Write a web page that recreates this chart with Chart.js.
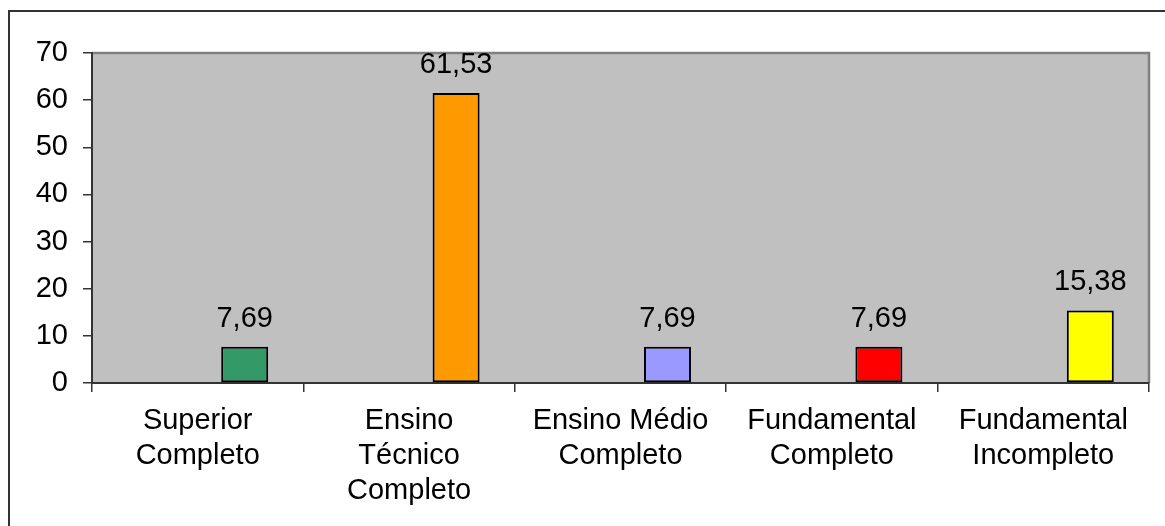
<!DOCTYPE html>
<html>
<head>
<meta charset="utf-8">
<script src="https://cdn.jsdelivr.net/npm/chart.js@4/dist/chart.umd.min.js"></script>
<style>
  html, body { margin: 0; padding: 0; background: #fff; }
  #wrap { width: 1165px; height: 526px; position: relative; }
</style>
</head>
<body>
<div id="wrap"><canvas id="escolaridadeChart" width="1165" height="526"></canvas></div>
<script>
// dados do gráfico
const categorias = [
    ['Superior', 'Completo'],
    ['Ensino', 'Técnico', 'Completo'],
    ['Ensino Médio', 'Completo'],
    ['Fundamental', 'Completo'],
    ['Fundamental', 'Incompleto']
];
const percentuais = [7.69, 61.53, 7.69, 7.69, 15.38];
const rotulos = ['7,69', '61,53', '7,69', '7,69', '15,38'];
const coresBarras = ['#339966', '#FF9900', '#9999FF', '#FF0000', '#FFFF00'];
const serieVazia = [null, null, null, null, null];
const yTicks = [0, 10, 20, 30, 40, 50, 60, 70];

const fonte = { family: "'Liberation Sans', Arial, sans-serif", size: 29, lineHeight: 1.2 };

// moldura externa e fundo cinza da área do gráfico
const fundoPlugin = {
    id: 'fundo',
    beforeDraw(chart) {
        const { ctx, chartArea: a } = chart;
        ctx.save();
        ctx.fillStyle = '#C0C0C0';
        ctx.fillRect(a.left, a.top, a.right - a.left, a.bottom - a.top);
        ctx.strokeStyle = '#808080';
        ctx.lineWidth = 2.5;
        ctx.beginPath();
        ctx.moveTo(a.left, a.top);
        ctx.lineTo(a.right, a.top);
        ctx.lineTo(a.right, a.bottom);
        ctx.stroke();
        // moldura
        ctx.strokeStyle = '#333333';
        ctx.lineWidth = 2;
        ctx.beginPath();
        ctx.moveTo(9, chart.height + 5);
        ctx.lineTo(9, 11);
        ctx.lineTo(chart.width + 5, 11);
        ctx.stroke();
        ctx.restore();
    }
};

// rótulos de valor acima das barras
const rotulosPlugin = {
    id: 'rotulos',
    afterDatasetsDraw(chart) {
        const { ctx } = chart;
        const meta = chart.getDatasetMeta(2);
        ctx.save();
        ctx.font = `${fonte.size}px ${fonte.family}`;
        ctx.fillStyle = '#000';
        ctx.textAlign = 'center';
        ctx.textBaseline = 'alphabetic';
        meta.data.forEach((bar, i) => {
            ctx.fillText(rotulos[i], bar.x, bar.y - 20);
        });
        ctx.restore();
    }
};

const ctx = document.getElementById('escolaridadeChart').getContext('2d');
new Chart(ctx, {
    type: 'bar',
    data: {
        labels: categorias,
        datasets: [
            { label: 'vazio1', data: serieVazia },
            { label: 'vazio2', data: serieVazia },
            {
                label: 'Escolaridade',
                data: percentuais,
                backgroundColor: coresBarras,
                borderColor: '#000',
                borderWidth: 2,
                borderSkipped: false
            }
        ]
    },
    options: {
        responsive: false,
        animation: false,
        events: [],
        categoryPercentage: 0.667,
        barPercentage: 1,
        layout: { padding: { top: 53, right: 16, left: 0, bottom: 0 } },
        plugins: {
            legend: { display: false },
            tooltip: { enabled: false }
        },
        scales: {
            x: {
                grid: { drawOnChartArea: false, drawTicks: true, tickLength: 9, color: '#333', lineWidth: 1.5, offset: true },
                border: { color: '#333', width: 2 },
                ticks: { color: '#000', font: fonte, padding: 12, maxRotation: 0, autoSkip: false },
                afterFit(scale) { scale.height = 143; }
            },
            y: {
                min: 0,
                max: 70,
                afterBuildTicks(scale) { scale.ticks = yTicks.map(v => ({ value: v })); },
                grid: { drawOnChartArea: false, drawTicks: true, tickLength: 9, color: '#333', lineWidth: 1.5 },
                border: { color: '#333', width: 2 },
                ticks: { color: '#000', font: fonte, padding: 15 },
                afterFit(scale) { scale.width = 92; }
            }
        }
    },
    plugins: [fundoPlugin, rotulosPlugin]
});
</script>
</body>
</html>
